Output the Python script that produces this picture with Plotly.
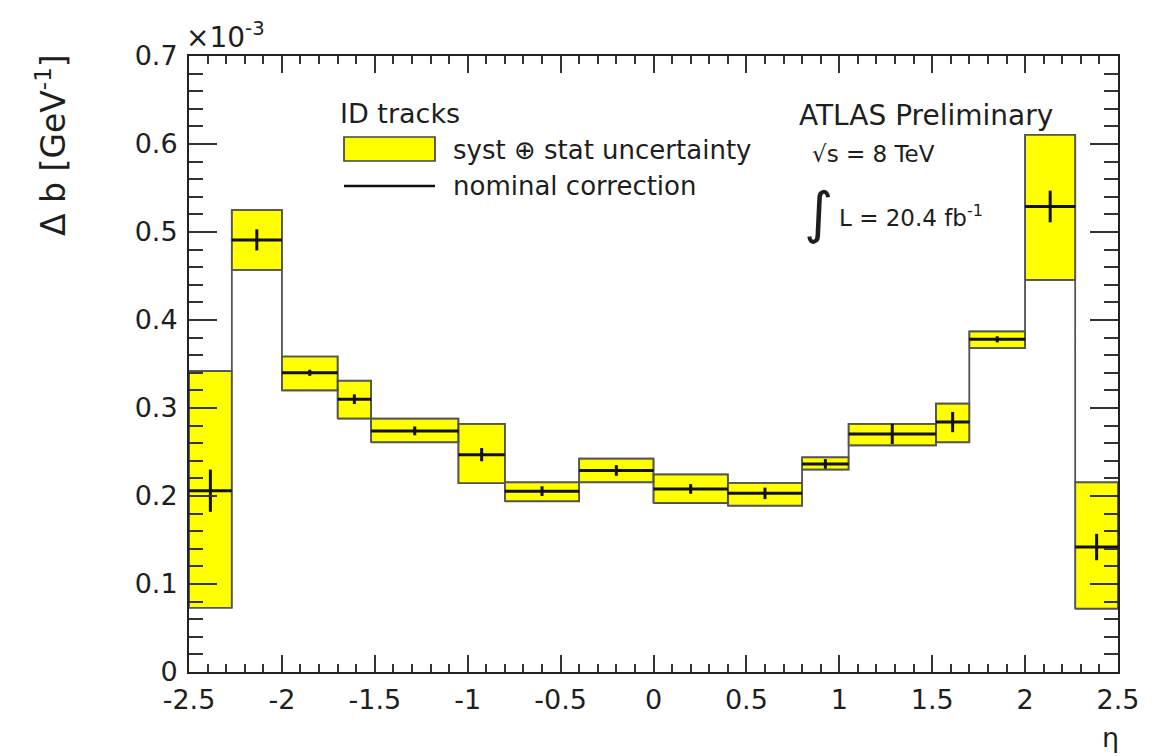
import plotly.graph_objects as go

# eta binning of the momentum-scale correction
eta_edges = [-2.5, -2.27, -2.0, -1.7, -1.52, -1.05, -0.8, -0.4, 0.0,
             0.4, 0.8, 1.05, 1.52, 1.7, 2.0, 2.27, 2.5]

# nominal correction Delta b per bin [1e-3 GeV^-1]
nominal = [0.206, 0.491, 0.340, 0.310, 0.274, 0.247, 0.2055, 0.229,
           0.208, 0.203, 0.2365, 0.2705, 0.284, 0.378, 0.529, 0.142]
# statistical error on the nominal value
stat_err = [0.024, 0.012, 0.0035, 0.0055, 0.005, 0.0075, 0.0055, 0.006,
            0.0055, 0.0065, 0.0055, 0.0115, 0.0115, 0.0035, 0.018, 0.015]
# syst (+) stat band edges
band_up = [0.342, 0.525, 0.3585, 0.331, 0.288, 0.282, 0.2155, 0.2425,
           0.2245, 0.215, 0.244, 0.282, 0.305, 0.387, 0.6105, 0.2155]
band_down = [0.073, 0.457, 0.320, 0.288, 0.261, 0.2145, 0.194, 0.2155,
             0.192, 0.189, 0.230, 0.2575, 0.261, 0.368, 0.4455, 0.072]

x_ticks = [-2.5, -2, -1.5, -1, -0.5, 0, 0.5, 1, 1.5, 2, 2.5]
x_ticklabels = ["-2.5", "-2", "-1.5", "-1", "-0.5", "0", "0.5", "1", "1.5", "2", "2.5"]
y_ticks = [0, 0.1, 0.2, 0.3, 0.4, 0.5, 0.6, 0.7]
y_ticklabels = ["0", "0.1", "0.2", "0.3", "0.4", "0.5", "0.6", "0.7"]

FONT = "DejaVu Sans"
INK = "#1e1e1e"
YELLOW = "#ffff00"
EDGE = "#444444"

W, H = 1173, 756
ML, MR, MT, MB = 189, 55, 56, 84
PW, PH = W - ML - MR, H - MT - MB


def px(x):
    return (x - ML) / PW


def py(y):
    return (H - MB - y) / PH


fig = go.Figure()

# yellow uncertainty boxes, one closed polygon per bin
bx, by = [], []
for i in range(len(nominal)):
    lo, hi = eta_edges[i], eta_edges[i + 1]
    bx += [lo, hi, hi, lo, lo, None]
    by += [band_down[i], band_down[i], band_up[i], band_up[i], band_down[i], None]
fig.add_trace(go.Scatter(x=bx, y=by, mode="lines", fill="toself",
                         fillcolor=YELLOW, line=dict(color=EDGE, width=1.7),
                         hoverinfo="skip", showlegend=False))

# upper and lower band outlines drawn as step histograms
for band in (band_up, band_down):
    fig.add_trace(go.Scatter(x=eta_edges, y=band + [band[-1]], mode="lines",
                             line=dict(color="#555555", width=1.5, shape="hv"),
                             hoverinfo="skip", showlegend=False))

# nominal correction: horizontal bar across each bin plus stat error bar
nx, ny, ex, ey = [], [], [], []
for i in range(len(nominal)):
    lo, hi = eta_edges[i], eta_edges[i + 1]
    c = 0.5 * (lo + hi)
    nx += [lo, hi, None]
    ny += [nominal[i], nominal[i], None]
    ex += [c, c, None]
    ey += [nominal[i] - stat_err[i], nominal[i] + stat_err[i], None]
fig.add_trace(go.Scatter(x=nx, y=ny, mode="lines",
                         line=dict(color="#111111", width=3),
                         hoverinfo="skip", showlegend=False))
fig.add_trace(go.Scatter(x=ex, y=ey, mode="lines",
                         line=dict(color="#111111", width=3),
                         hoverinfo="skip", showlegend=False))

axis_common = dict(showline=True, linecolor="#222222", linewidth=2,
                   mirror="ticks", showgrid=False, zeroline=False,
                   ticks="inside", tickcolor="#333333", tickwidth=1.5,
                   tickfont=dict(family=FONT, size=27, color=INK))

fig.update_xaxes(range=[-2.5, 2.5], tickvals=x_ticks, ticktext=x_ticklabels,
                 ticklen=17, ticklabelstandoff=3,
                 minor=dict(dtick=0.1, tick0=-2.5, ticks="inside", ticklen=8,
                            tickwidth=1.5, tickcolor="#333333"),
                 **axis_common)
fig.update_yaxes(range=[0, 0.7], tickvals=y_ticks, ticktext=y_ticklabels,
                 ticklen=28, ticklabelstandoff=4,
                 minor=dict(dtick=0.02, tick0=0, ticks="inside", ticklen=14,
                            tickwidth=1.5, tickcolor="#333333"),
                 **axis_common)


def label(text, x, y, size, xanchor="left", yanchor="middle", angle=0):
    fig.add_annotation(text=text, x=px(x), y=py(y), xref="paper", yref="paper",
                       xanchor=xanchor, yanchor=yanchor, showarrow=False,
                       textangle=angle,
                       font=dict(family=FONT, size=size, color=INK))


# axis titles and exponent
label("Δ b [GeV<sup>-1</sup>]", 52, 52, 33, xanchor="center", yanchor="top", angle=-90)
label("η", 1110, 737, 27, xanchor="center")
label("×10<sup>-3</sup>", 184, 36, 28)

# legend
label("ID tracks", 338, 113, 27)
label("syst ⊕ stat uncertainty", 451, 150, 26)
label("nominal correction", 451, 186, 26)
fig.add_shape(type="rect", xref="paper", yref="paper",
              x0=px(344), x1=px(435), y0=py(161), y1=py(137),
              fillcolor=YELLOW, line=dict(color=EDGE, width=1.7))
fig.add_shape(type="line", xref="paper", yref="paper",
              x0=px(344), x1=px(435), y0=py(186), y1=py(186),
              line=dict(color="#111111", width=2.5))

# experiment labels
label("ATLAS Preliminary", 797, 116, 28)
label("√s = 8 TeV", 810, 154, 23)
label("∫", 818, 212, 56, xanchor="center")
label("L = 20.4 fb<sup>-1</sup>", 837, 216, 23)

fig.update_layout(width=W, height=H,
                  margin=dict(l=ML, r=MR, t=MT, b=MB, pad=0),
                  paper_bgcolor="white", plot_bgcolor="white",
                  showlegend=False)

fig.write_html("out.html")
